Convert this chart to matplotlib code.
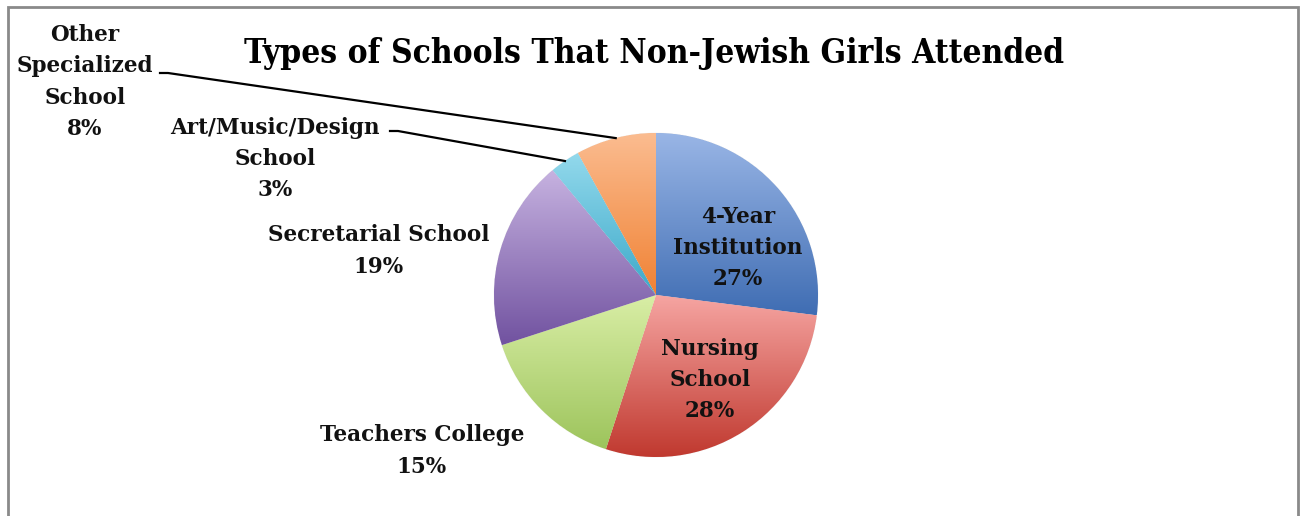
import matplotlib
matplotlib.use("Agg")
import matplotlib.pyplot as plt
import numpy as np
from matplotlib.colors import LinearSegmentedColormap
from matplotlib.lines import Line2D
from matplotlib.patches import Rectangle


CATEGORIES = ["4-Year\nInstitution", "Nursing\nSchool", "Teachers College",
              "Secretarial School", "Art/Music/Design\nSchool",
              "Other\nSpecialized\nSchool"]
SHARES = [27, 28, 15, 19, 3, 8]

# light (top) -> dark (bottom) shading per slice
TOP_COLORS = ["#9AB6E6", "#F6A5A2", "#D9EEA6", "#C6B2E0", "#93D9EC", "#FBBC90"]
BOTTOM_COLORS = ["#3F6DB3", "#C0392F", "#9DC45C", "#7152A0", "#3CA9C9", "#F08234"]

W, H = 1301, 516
FONT = "DejaVu Serif"


def px(x, y):
    """Pixel position measured from the top-left corner -> figure fraction."""
    return x / W, 1 - y / H


fig = plt.figure(figsize=(W / 100, H / 100), dpi=100)
fig.patch.set_facecolor("white")

# chart frame
fig.add_artist(Rectangle(px(8, 560), (1298 - 8) / W, (560 - 7) / H,
                         transform=fig.transFigure, fill=False,
                         edgecolor="#8a8a8a", lw=2.0))

cx, cy, r = 656, 295, 162
ax = fig.add_axes([(cx - r) / W, 1 - (cy + r) / H, 2 * r / W, 2 * r / H])
ax.set_xlim(-1, 1)
ax.set_ylim(-1, 1)
ax.axis("off")

wedges, _ = ax.pie(SHARES, startangle=90, counterclock=False, radius=1,
                   colors=BOTTOM_COLORS,
                   wedgeprops=dict(linewidth=0.6, edgecolor="#f4f4f4"))

for wedge, top, bottom in zip(wedges, TOP_COLORS, BOTTOM_COLORS):
    ext = wedge.get_path().get_extents()
    cmap = LinearSegmentedColormap.from_list("shade", [bottom, top])
    grad = np.linspace(0, 1, 256).reshape(-1, 1)
    img = ax.imshow(grad, cmap=cmap, origin="lower", aspect="auto",
                    extent=[ext.x0, ext.x1, ext.y0, ext.y1],
                    interpolation="bilinear", zorder=wedge.get_zorder() + 0.1)
    img.set_clip_path(wedge)
ax.set_xlim(-1, 1)
ax.set_ylim(-1, 1)

txt = dict(fontfamily=FONT, fontweight="bold", color="#111111",
           ha="center", va="center", multialignment="center", linespacing=1.55)

fig.text(*px(654, 53), "Types of Schools That Non-Jewish Girls Attended",
         fontfamily=FONT, fontweight="bold", fontsize=24, fontstretch="condensed",
         color="#000000", ha="center", va="center")

labels = [f"{c}\n{s}%" for c, s in zip(CATEGORIES, SHARES)]
positions = [(738, 248), (710, 380), (422, 451), (379, 251), (275, 159), (85, 82)]
for lab, (x, y) in zip(labels, positions):
    fig.text(*px(x, y), lab, fontsize=15.5, **txt)

# leader lines for the two thin slices
total = sum(SHARES)
cum = np.cumsum(SHARES)
for idx, start in [(5, (160, 73)), (4, (390, 131))]:
    mid = (cum[idx] - SHARES[idx] / 2) / total
    ang = np.deg2rad(90 - 360 * mid)
    tip = ax.transData.transform((np.cos(ang), np.sin(ang)))
    tx, ty = fig.transFigure.inverted().transform(tip)
    sx, sy = px(*start)
    kx = sx + 8 / W
    fig.add_artist(Line2D([sx, kx, tx], [sy, sy, ty], transform=fig.transFigure,
                          color="#000000", lw=1.6))

fig.savefig("out.png", dpi=100, facecolor="white")
